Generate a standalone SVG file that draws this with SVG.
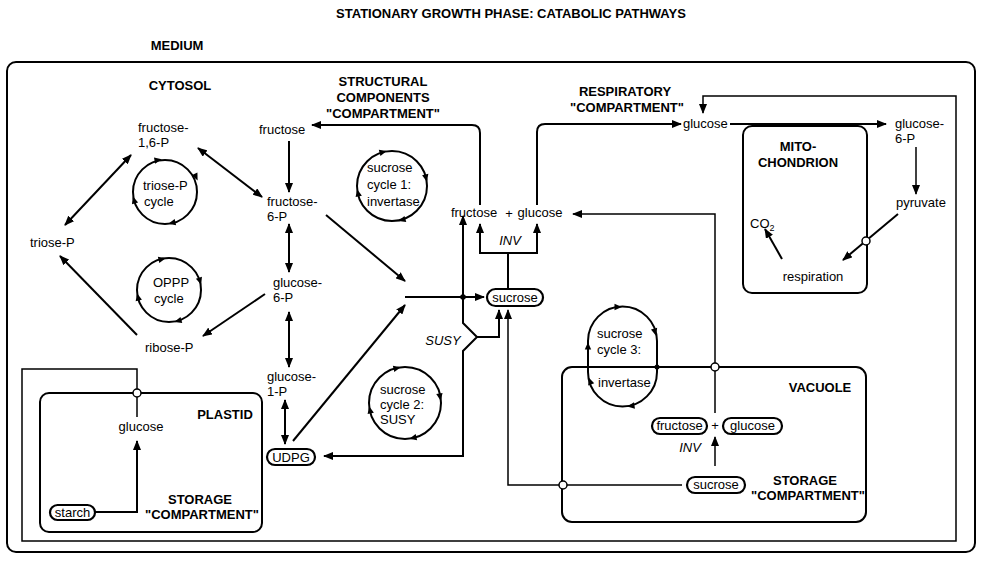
<svg xmlns="http://www.w3.org/2000/svg" width="982" height="561" viewBox="0 0 982 561">
  <style>
    text { font-family: "Liberation Sans", Arial, Helvetica, sans-serif; font-size: 13px; fill: #000; }
    .b { font-weight: bold; }
    .i { font-style: italic; }
    .c { text-anchor: middle; }
    .ln { fill: none; stroke: #000; stroke-width: 2; }
    .th { fill: none; stroke: #000; stroke-width: 1.5; }
    .box { fill: none; stroke: #000; stroke-width: 2; }
    .pill { fill: #fff; stroke: #000; stroke-width: 2.2; }
    .cyc { fill: none; stroke: #000; stroke-width: 2; }
    .tp { fill: #fff; stroke: #000; stroke-width: 1.5; }
  </style>
  <defs>
    <marker id="ah" viewBox="0 0 10 8" refX="9" refY="4" markerWidth="10" markerHeight="8" markerUnits="userSpaceOnUse" orient="auto-start-reverse">
      <path d="M0,0 L10,4 L0,8 Z" fill="#000"/>
    </marker>
    <path id="ca" d="M-3.5,-3.2 L3.8,0 L-3.5,3.2 Z" fill="#000"/>
  </defs>

  <rect width="982" height="561" fill="#fff"/>

  <text class="b c" x="511" y="18">STATIONARY GROWTH PHASE: CATABOLIC PATHWAYS</text>
  <text class="b c" x="177" y="50">MEDIUM</text>

  <!-- cell / cytosol -->
  <g id="cytosol">
    <rect class="box" x="7" y="62" width="968" height="490" rx="9"/>
    <text class="b c" x="180" y="90">CYTOSOL</text>
  </g>

  <!-- organelle compartments -->
  <g id="plastid">
    <rect class="box" x="40" y="393" width="222" height="139" rx="9"/>
    <text class="b c" x="225" y="419">PLASTID</text>
    <text class="b c" x="200" y="504">STORAGE</text>
    <text class="b c" x="202" y="519">"COMPARTMENT"</text>
  </g>
  <g id="vacuole">
    <rect class="box" x="562" y="367" width="304" height="155" rx="10"/>
    <text class="b c" x="820" y="392">VACUOLE</text>
    <text class="b c" x="805" y="485">STORAGE</text>
    <text class="b c" x="808" y="500">"COMPARTMENT"</text>
  </g>
  <g id="mitochondrion">
    <rect class="box" x="743" y="126" width="124" height="167" rx="9"/>
    <text class="b c" x="798" y="151">MITO-</text>
    <text class="b c" x="798" y="167">CHONDRION</text>
  </g>

  <!-- compartment captions -->
  <g id="structural-compartment">
    <text class="b c" x="383" y="86">STRUCTURAL</text>
    <text class="b c" x="383" y="102">COMPONENTS</text>
    <text class="b c" x="383" y="118">"COMPARTMENT"</text>
  </g>
  <g id="respiratory-compartment">
    <text class="b c" x="625" y="96">RESPIRATORY</text>
    <text class="b c" x="627" y="112">"COMPARTMENT"</text>
  </g>

  <!-- metabolite nodes -->
  <g id="fructose-16p"><text x="138" y="132">fructose-</text><text x="138" y="147">1,6-P</text></g>
  <g id="fructose-cyt"><text x="259" y="134">fructose</text></g>
  <g id="fructose-6p"><text x="267" y="206">fructose-</text><text x="267" y="221">6-P</text></g>
  <g id="glucose-6p"><text x="273" y="287">glucose-</text><text x="273" y="302">6-P</text></g>
  <g id="glucose-1p"><text x="267" y="381">glucose-</text><text x="267" y="396">1-P</text></g>
  <g id="triose-p"><text x="30" y="247">triose-P</text></g>
  <g id="ribose-p"><text x="145" y="352">ribose-P</text></g>
  <g id="udpg"><rect class="pill" x="267" y="449" width="48" height="16" rx="8"/><text class="c" x="291" y="462">UDPG</text></g>
  <g id="fructose-glucose-cyt">
    <text class="c" x="474" y="217">fructose</text>
    <text class="c" x="509" y="218">+</text>
    <text class="c" x="540" y="217">glucose</text>
  </g>
  <g id="sucrose-cyt"><rect class="pill" x="487" y="289" width="56" height="17" rx="8.5"/><text class="c" x="515" y="302">sucrose</text></g>
  <g id="glucose-resp"><text x="683" y="128">glucose</text></g>
  <g id="glucose-6p-resp"><text x="895" y="128">glucose-</text><text x="895" y="143">6-P</text></g>
  <g id="pyruvate"><text class="c" x="921" y="207">pyruvate</text></g>
  <g id="co2"><text x="750" y="228">CO<tspan font-size="9" dy="3">2</tspan></text></g>
  <g id="respiration"><text class="c" x="813" y="281">respiration</text></g>
  <g id="glucose-plastid"><text class="c" x="141" y="431">glucose</text></g>
  <g id="starch"><rect class="pill" x="50" y="505" width="45" height="15" rx="7.5"/><text class="c" x="72.5" y="517">starch</text></g>
  <g id="fructose-vac"><rect class="pill" x="652" y="418" width="55" height="16" rx="8"/><text class="c" x="679.5" y="430">fructose</text></g>
  <g id="plus-vac"><text class="c" x="715" y="430">+</text></g>
  <g id="glucose-vac"><rect class="pill" x="723" y="418" width="59" height="16" rx="8"/><text class="c" x="752.5" y="430">glucose</text></g>
  <g id="sucrose-vac"><rect class="pill" x="687" y="477" width="58" height="16" rx="8"/><text class="c" x="716" y="489">sucrose</text></g>

  <!-- futile cycles -->
  <g id="triose-p-cycle">
    <circle class="cyc" cx="165" cy="192" r="32"/>
    <text x="143" y="190">triose-P</text><text x="144" y="206">cycle</text>
    <use href="#ca" transform="translate(158,160) rotate(-10)"/>
    <use href="#ca" transform="translate(196,177) rotate(65)"/>
    <use href="#ca" transform="translate(172,223) rotate(167)"/>
    <use href="#ca" transform="translate(134,200) rotate(253)"/>
  </g>
  <g id="oppp-cycle">
    <circle class="cyc" cx="169" cy="290" r="32"/>
    <text x="153" y="287">OPPP</text><text x="154" y="303">cycle</text>
    <use href="#ca" transform="translate(162,259) rotate(-13)"/>
    <use href="#ca" transform="translate(200,281) rotate(72)"/>
    <use href="#ca" transform="translate(178,321) rotate(164)"/>
    <use href="#ca" transform="translate(138,297) rotate(257)"/>
  </g>
  <g id="sucrose-cycle-1">
    <circle class="cyc" cx="392" cy="186" r="35"/>
    <text x="367" y="172">sucrose</text><text x="367" y="189">cycle 1:</text><text x="367" y="206">invertase</text>
    <use href="#ca" transform="translate(383,152) rotate(-15)"/>
    <use href="#ca" transform="translate(426,178) rotate(77)"/>
    <use href="#ca" transform="translate(402,220) rotate(164)"/>
    <use href="#ca" transform="translate(358,193) rotate(258)"/>
  </g>
  <g id="sucrose-cycle-2">
    <circle class="cyc" cx="405" cy="403" r="36"/>
    <text x="380" y="394">sucrose</text><text x="380" y="409">cycle 2:</text><text x="380" y="424">SUSY</text>
    <use href="#ca" transform="translate(397,368) rotate(-13)"/>
    <use href="#ca" transform="translate(440,397) rotate(80)"/>
    <use href="#ca" transform="translate(413,438) rotate(167)"/>
    <use href="#ca" transform="translate(370,410) rotate(258)"/>
  </g>
  <g id="sucrose-cycle-3">
    <path class="cyc" d="M588,341 A34.5,34.5 0 0 1 657,341 L657,372 A34.5,34.5 0 0 1 588,372 Z"/>
    <text x="597" y="338">sucrose</text><text x="597" y="354">cycle 3:</text><text x="598" y="387">invertase</text>
    <use href="#ca" transform="translate(618,307) rotate(0)"/>
    <use href="#ca" transform="translate(655,332) rotate(75)"/>
    <use href="#ca" transform="translate(631,406) rotate(172)"/>
    <use href="#ca" transform="translate(588,346) rotate(270)"/>
    <use href="#ca" transform="translate(590,381) rotate(250)"/>
    <circle cx="657" cy="367" r="2.5" fill="#000"/>
  </g>

  <!-- enzyme labels -->
  <g id="enzymes">
    <text class="i c" x="510" y="245">INV</text>
    <text class="i c" x="443" y="345">SUSY</text>
    <text class="i c" x="690" y="452">INV</text>
  </g>

  <!-- connectors -->
  <g id="connectors">
    <path class="ln" d="M131,155 L65,225" marker-start="url(#ah)" marker-end="url(#ah)"/>
    <path class="ln" d="M198,148 L262,197" marker-start="url(#ah)" marker-end="url(#ah)"/>
    <path class="ln" d="M289,141 L289,192" marker-end="url(#ah)"/>
    <path class="ln" d="M289,224 L289,272" marker-start="url(#ah)" marker-end="url(#ah)"/>
    <path class="ln" d="M289,312 L289,367" marker-start="url(#ah)" marker-end="url(#ah)"/>
    <path class="ln" d="M285,400 L285,444" marker-start="url(#ah)" marker-end="url(#ah)"/>
    <path class="ln" d="M265,294 L203,336" marker-end="url(#ah)"/>
    <path class="ln" d="M137,335 L60,256" marker-end="url(#ah)"/>
    <path class="ln" d="M326,215 L405,281" marker-end="url(#ah)"/>
    <path class="ln" d="M293,441 L405,305" marker-end="url(#ah)"/>
    <path class="ln" d="M405,297 L484,297" marker-end="url(#ah)"/>
    <!-- sucrose synthase fork -->
    <path class="ln" d="M463,297 L463,216" marker-end="url(#ah)"/>
    <path class="ln" d="M463,297 L463,323 L477,337 L463,351 L463,456 L324,456" marker-end="url(#ah)"/>
    <path class="ln" d="M477,337 L499,337 L499,310" marker-end="url(#ah)"/>
    <circle cx="463" cy="297" r="2.8" fill="#000"/>
    <!-- invertase fork -->
    <path class="ln" d="M508,288 L508,253"/>
    <path class="ln" d="M480,224 L480,253 L537,253 L537,224" marker-start="url(#ah)" marker-end="url(#ah)"/>
    <!-- to structural and respiratory compartments -->
    <path class="ln" d="M480,205 L480,133 Q480,125 472,125 L312,125" marker-end="url(#ah)"/>
    <path class="ln" d="M537,205 L537,132 Q537,124 545,124 L681,124" marker-end="url(#ah)"/>
    <path class="ln" d="M730,124 L886,124" marker-end="url(#ah)"/>
    <path class="th" d="M916,147 L916,194" marker-end="url(#ah)"/>
    <path class="ln" d="M898,214 L843,260" marker-end="url(#ah)"/>
    <circle class="tp" cx="866" cy="241" r="4"/>
    <path class="ln" d="M782,259 L765,229" marker-end="url(#ah)"/>
    <!-- vacuolar exchange -->
    <path class="th" d="M715,413 L715,214 L573,214" marker-end="url(#ah)"/>
    <circle class="tp" cx="715" cy="367" r="4"/>
    <path class="th" d="M682,485 L508,485 L508,310" marker-end="url(#ah)"/>
    <circle class="tp" cx="563" cy="485" r="4"/>
    <path class="th" d="M715,466 L715,437" marker-end="url(#ah)"/>
    <!-- plastid -->
    <path class="ln" d="M95,512 L137,512 L137,441" marker-end="url(#ah)"/>
    <path class="th" d="M137,417 L137,369 L22,369 L22,541 L956,541 L956,96 L703,96 L703,113" marker-end="url(#ah)"/>
    <circle class="tp" cx="137" cy="393" r="4"/>
  </g>
</svg>
